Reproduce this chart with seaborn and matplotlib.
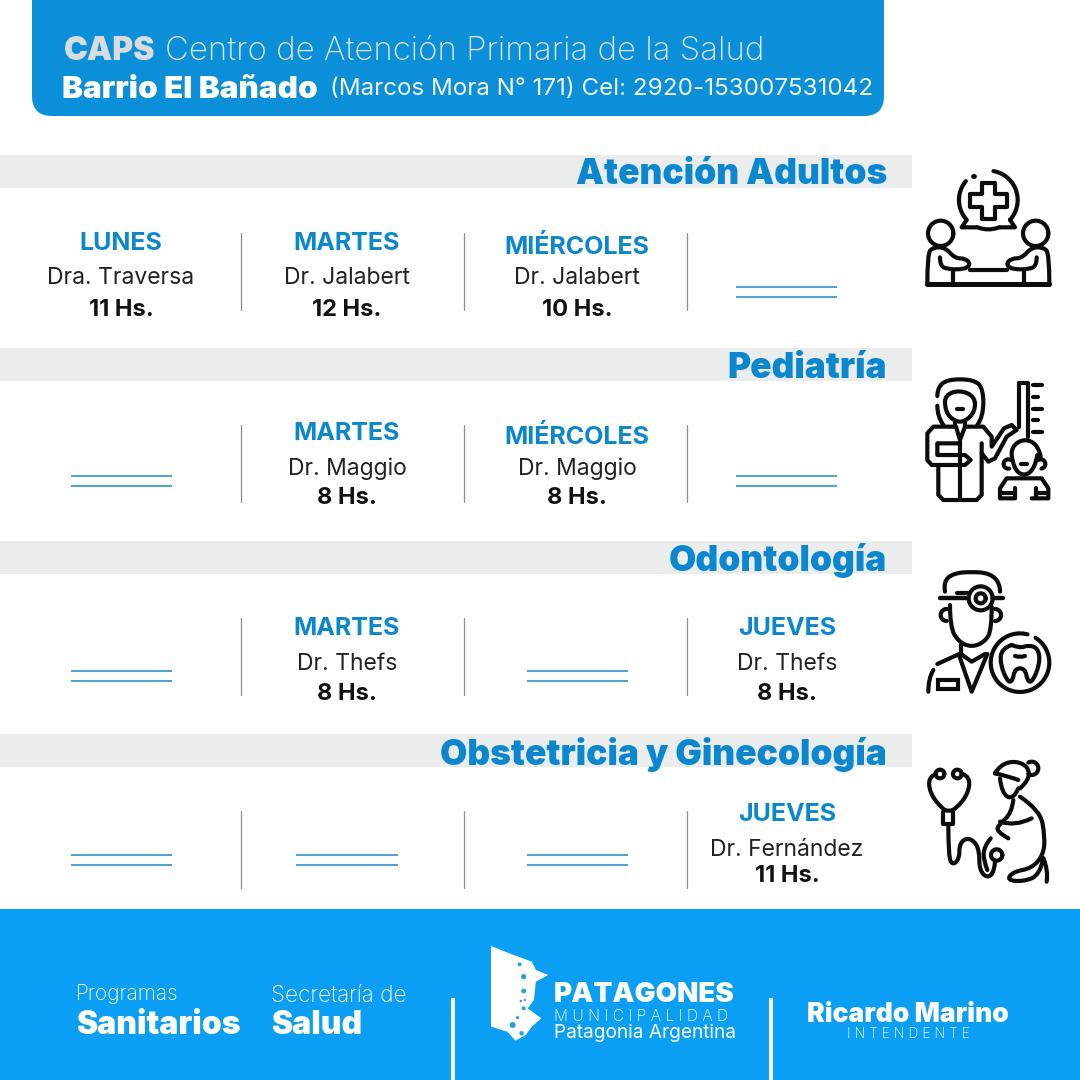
import matplotlib
matplotlib.use("Agg")
import matplotlib.pyplot as plt
from matplotlib.patches import FancyBboxPatch, PathPatch, Polygon, Rectangle
from matplotlib.path import Path
import numpy as np
import seaborn as sns

# Schedule content
departments = ["Atención Adultos", "Pediatría", "Odontología", "Obstetricia y Ginecología"]
days = [
    ["LUNES", "MARTES", "MIÉRCOLES", None],
    [None, "MARTES", "MIÉRCOLES", None],
    [None, "MARTES", None, "JUEVES"],
    [None, None, None, "JUEVES"],
]
doctors = [
    ["Dra. Traversa", "Dr. Jalabert", "Dr. Jalabert", None],
    [None, "Dr. Maggio", "Dr. Maggio", None],
    [None, "Dr. Thefs", None, "Dr. Thefs"],
    [None, None, None, "Dr. Fernández"],
]
hours = [
    ["11 Hs.", "12 Hs.", "10 Hs.", None],
    [None, "8 Hs.", "8 Hs.", None],
    [None, "8 Hs.", None, "8 Hs."],
    [None, None, None, "11 Hs."],
]

# Layout in image pixels
band_mid = [171.5, 364.5, 557.5, 750.5]
band_len = [912, 912, 912, 912]
col_x = [121, 347, 577, 787]
sep_x = [241, 464, 687]
dash_x = [(71, 172), (296, 398), (527, 628), (736, 837)]
day_y = [[242, 242, 246, 0], [0, 432, 436, 0], [0, 627, 0, 627], [0, 0, 0, 813]]
doc_y = [277, 467, 662, 849]
hour_y = [308, 496, 692, 874]
dash_y = [292, 481, 676, 860]
sep_top = [233, 425, 618, 811]

BLUE = "#0a87cf"
HEAD = "#0b8fd9"
FOOT = "#0a9ff5"
GREY = "#ebecec"
INK = "#111111"

sns.set_theme(style="white")
plt.rcParams["font.family"] = ["Inter", "DejaVu Sans"]

fig, ax = plt.subplots(figsize=(10.8, 10.8), dpi=100)
ax.set_position([0, 0, 1, 1])

# grey title bands
sns.barplot(x=band_len, y=band_mid, orient="y", native_scale=True, width=33 / 193,
            color=GREY, saturation=1, linewidth=0, ax=ax)
ax.set_xlim(0, 1080)
ax.set_ylim(1080, 0)
ax.axis("off")


def label(x, y, s, size, weight="normal", color=INK, ha="center"):
    return ax.text(x, y + 2.5, s, fontsize=size, fontweight=weight, color=color, ha=ha, va="center", zorder=5)


def stroke(pts, ox, oy, smooth=False, lw=3.0, color="#0c0c0c"):
    # icon coordinates are 1/3 px units relative to the icon's origin
    p = np.array(pts, dtype=float) / 3 + [ox, oy]
    if smooth and len(p) > 2:
        verts = [p[0]]
        codes = [Path.MOVETO]
        for i in range(1, len(p) - 1):
            end = p[i + 1] if i == len(p) - 2 else (p[i] + p[i + 1]) / 2
            verts += [p[i], end]
            codes += [Path.CURVE3, Path.CURVE3]
    else:
        verts = list(p)
        codes = [Path.MOVETO] + [Path.LINETO] * (len(p) - 1)
    ax.add_patch(PathPatch(Path(verts, codes), fill=False, lw=lw, ec=color,
                           capstyle="round", joinstyle="round", zorder=4))


def arc(cx, cy, r, a0, a1):
    t = np.radians(np.linspace(a0, a1, 40))
    return np.column_stack([cx + r * np.cos(t), cy - r * np.sin(t)])


def ring(cx, cy, r, ox, oy, a0=0, a1=360, lw=3.0):
    stroke(arc(cx, cy, r, a0, a1), ox, oy, lw=lw)


# header
ax.add_patch(FancyBboxPatch((32, -40), 852, 156, boxstyle="round,pad=0,rounding_size=20",
                            fc=HEAD, ec="none", zorder=2))
label(64, 49, "CAPS", 23, "black", "#d8dcdf", "left")
label(165, 49, "Centro de Atención Primaria de la Salud", 23.7, "light", "#dfe6ea", "left")
label(62, 87, "Barrio El Bañado", 22.6, "black", "white", "left")
label(330, 87, "(Marcos Mora N° 171) Cel: 2920-153007531042", 17.4, "normal", "#f2f6f8", "left")

# schedule rows
for r, name in enumerate(departments):
    label(887, band_mid[r] + 1, name, 25.4, "black", BLUE, "right")
    for x in sep_x:
        ax.plot([x, x], [sep_top[r], sep_top[r] + 77], color="#8d8d8d", lw=0.9)
    for c in range(4):
        if days[r][c] is None:
            x0, x1 = dash_x[c]
            ax.hlines([dash_y[r] - 5, dash_y[r] + 5], x0, x1, color="#3d9bd0", lw=1.3)
            continue
        label(col_x[c], day_y[r][c] - 1, days[r][c], 18, "bold", BLUE)
        label(col_x[c], doc_y[r] - 1, doctors[r][c], 16.5, "normal", "#222222")
        label(col_x[c], hour_y[r] - 1, hours[r][c], 17, "bold", INK)

# icon 1: consultation
ox, oy = 900, 160
ring(265, 120, 88, ox, oy, 80, -42)
stroke([(330, 180), (345, 202), (300, 202)], ox, oy)
ring(265, 120, 88, ox, oy, -68, -112)
stroke([(230, 202), (185, 202), (200, 180)], ox, oy)
ring(265, 120, 88, ox, oy, 222, 140)
stroke([(220, 47), (221, 47)], ox, oy, lw=3.5)
stroke([(245, 70), (285, 70), (285, 103), (320, 103), (320, 142), (285, 142), (285, 177), (245, 177),
        (245, 142), (210, 142), (210, 103), (245, 103), (245, 70)], ox, oy)
ring(122, 220, 38, ox, oy)
ring(407, 220, 38, ox, oy)
stroke([(82, 372), (448, 372)], ox, oy, lw=3.6)
stroke([(210, 330), (320, 330)], ox, oy)
for mx in (False, True):
    body = [(82, 372), (82, 280), (100, 262), (135, 262), (165, 295), (195, 295), (212, 312), (195, 328),
            (140, 328), (120, 315), (120, 292)]
    leg = [(158, 330), (158, 372)]
    if mx:
        body = [(530 - x, y) for x, y in body]
        leg = [(530 - x, y) for x, y in leg]
    stroke(body, ox, oy, smooth=True)
    stroke(leg, ox, oy)

# icon 2: pediatrics
stroke([(112, 708), (112, 685), (140, 658), (220, 658), (250, 685), (250, 770), (232, 795)], ox, oy, smooth=True)
stroke([(112, 737), (112, 770), (130, 795)], ox, oy, smooth=True)
stroke([(135, 725), (135, 705), (180, 690), (225, 710), (225, 755), (195, 785), (165, 785), (135, 755), (135, 725)],
       ox, oy, smooth=True)
stroke([(180, 720), (181, 720)], ox, oy, lw=3)
stroke([(172, 747), (190, 747)], ox, oy)
stroke([(165, 785), (165, 800), (100, 800), (82, 820), (82, 900), (95, 915), (195, 915), (212, 900), (195, 885),
        (112, 885), (112, 850), (175, 850)], ox, oy)
stroke([(115, 915), (115, 1005), (130, 1020), (230, 1020), (245, 1005), (245, 850)], ox, oy, smooth=False)
stroke([(180, 1020), (180, 845)], ox, oy)
stroke([(168, 800), (180, 840), (195, 800)], ox, oy)
stroke([(195, 785), (195, 800), (250, 800), (275, 830), (275, 860), (312, 805), (335, 795), (350, 810),
        (320, 830), (285, 895), (265, 905), (245, 880)], ox, oy)
stroke([(358, 800), (358, 668), (385, 668), (385, 830)], ox, oy)
for ty, tx in zip([676, 711, 746, 781, 816], [425, 415, 425, 415, 425]):
    stroke([(400, ty), (tx, ty)], ox, oy)
stroke([(335, 880), (335, 860), (372, 835), (415, 855), (422, 890)], ox, oy, smooth=True)
stroke([(335, 885), (340, 925), (372, 950), (405, 925), (412, 885)], ox, oy, smooth=True)
ring(325, 912, 14, ox, oy, 60, 280)
ring(422, 912, 14, ox, oy, 120, -80)
stroke([(372, 890), (373, 890)], ox, oy, lw=3)
stroke([(363, 912), (382, 912)], ox, oy)
stroke([(345, 1015), (300, 1015), (300, 985), (320, 955), (425, 955), (445, 985), (445, 1015), (395, 1015)], ox, oy)
stroke([(345, 1015), (345, 985)], ox, oy)
stroke([(300, 1000), (345, 1000)], ox, oy)
stroke([(408, 985), (408, 1015)], ox, oy)
stroke([(408, 1000), (445, 1000)], ox, oy)

# icon 3: dentist
ox, oy = 900, 550
stroke([(135, 125), (130, 95), (160, 70), (215, 65), (270, 70), (300, 100), (300, 125)], ox, oy, smooth=True)
stroke([(205, 145), (130, 145), (120, 145)], ox, oy, lw=3.2)
stroke([(280, 145), (310, 145)], ox, oy, lw=3.2)
stroke([(170, 130), (205, 130)], ox, oy)
ring(242, 145, 36, ox, oy)
ring(242, 145, 15, ox, oy)
stroke([(150, 165), (150, 230), (175, 275), (215, 292), (255, 275), (275, 240), (275, 170)], ox, oy, smooth=True)
ring(140, 195, 18, ox, oy, 90, 270)
ring(285, 195, 18, ox, oy, 90, -90)
stroke([(183, 285), (183, 312), (215, 335), (255, 312)], ox, oy)
stroke([(178, 318), (215, 425), (262, 312)], ox, oy)
stroke([(112, 342), (178, 312)], ox, oy, smooth=False)
stroke([(85, 425), (85, 385), (100, 360)], ox, oy, smooth=True)
ax.add_patch(Rectangle((900 + 115 / 3, 550 + 390 / 3), 20, 8.5, fill=False, lw=3, ec="#0c0c0c", zorder=4))
ring(360, 338, 88, ox, oy, 58, -285)
stroke([(335, 285), (305, 295), (300, 340), (322, 395), (337, 395), (345, 355), (375, 355), (383, 395), (398, 395),
        (420, 340), (415, 295), (385, 285), (360, 295), (335, 285)], ox, oy, smooth=True)
stroke([(345, 318), (360, 323), (375, 318)], ox, oy, smooth=True)

# icon 4: obstetrics
stroke([(108, 672), (85, 680), (90, 730), (125, 775), (145, 785), (170, 775), (205, 730), (210, 680), (188, 672)],
       ox, oy, smooth=True)
ring(120, 672, 13, ox, oy)
ring(172, 672, 13, ox, oy)
stroke([(130, 785), (130, 822), (160, 822), (160, 785)], ox, oy)
stroke([(145, 822), (145, 925), (160, 945), (178, 925), (178, 885), (195, 865), (220, 870), (238, 900), (238, 960),
        (262, 985), (283, 965), (285, 935)], ox, oy, smooth=True)
ring(290, 915, 17, ox, oy)
ring(395, 655, 20, ox, oy, 120, -120)
stroke([(285, 670), (300, 645), (345, 632), (385, 650), (388, 690), (360, 715)], ox, oy, smooth=True)
stroke([(285, 670), (330, 680), (355, 690)], ox, oy, smooth=True)
stroke([(300, 685), (305, 730), (340, 750), (355, 715)], ox, oy, smooth=True)
stroke([(340, 750), (335, 790), (295, 825), (290, 845), (325, 865)], ox, oy, smooth=True)
stroke([(300, 815), (345, 830), (395, 805)], ox, oy, smooth=True)
stroke([(360, 740), (420, 780), (435, 860), (430, 915), (395, 955), (340, 965), (320, 990), (370, 995), (420, 975),
        (430, 925)], ox, oy, smooth=True)
stroke([(430, 925), (445, 960), (440, 995)], ox, oy, smooth=True)
stroke([(272, 865), (252, 890), (250, 930), (262, 960)], ox, oy, smooth=True)
stroke([(285, 996), (286, 996)], ox, oy, lw=2.4)

# footer
ax.add_patch(Rectangle((0, 909), 1080, 171, fc=FOOT, ec="none", zorder=2))
for s, x, y, size, w in [("Programas", 76, 991, 15, "light"), ("Sanitarios", 76, 1023, 23, "black"),
                         ("Secretaría de", 271, 993, 16.2, "light"), ("Salud", 271, 1023, 23, "black")]:
    label(x, y, s, size, w, "white", "left")
ax.vlines([453, 771], 998, 1080, color="white", lw=2.8, zorder=3)

# municipal logo (its crop was 2.45x wide, 3x tall)
logo = np.array([(125, 78), (170, 100), (225, 125), (235, 150), (265, 165), (235, 185), (230, 240), (215, 265),
                 (248, 295), (225, 320), (210, 345), (185, 362), (165, 335), (125, 320)]) / [2.45, 3] + [440, 920]
ax.add_patch(Polygon(logo, fc="white", ec="none", zorder=3))
for zx, zy, rad in [(195, 133, 2), (205, 170, 2.6), (205, 213, 2.4), (208, 240, 1.2), (198, 243, 1.2),
                    (205, 265, 2), (190, 293, 1.6), (178, 315, 3), (200, 340, 2.2)]:
    ax.add_patch(plt.Circle((440 + zx / 2.45, 920 + zy / 3), rad, fc="#2c9fd8", ec="none", zorder=4))
label(554, 992, "PATAGONES", 20, "black", "white", "left")
label(554, 1014, "M U N I C I P A L I D A D", 11.2, "light", "white", "left")
label(554, 1031, "Patagonia Argentina", 13.7, "normal", "white", "left")
label(908, 1012, "Ricardo Marino", 19, "black", "white")
label(908, 1031, "I N T E N D E N T E", 10, "light", "white")

fig.savefig("out.png", dpi=100, facecolor="white")
